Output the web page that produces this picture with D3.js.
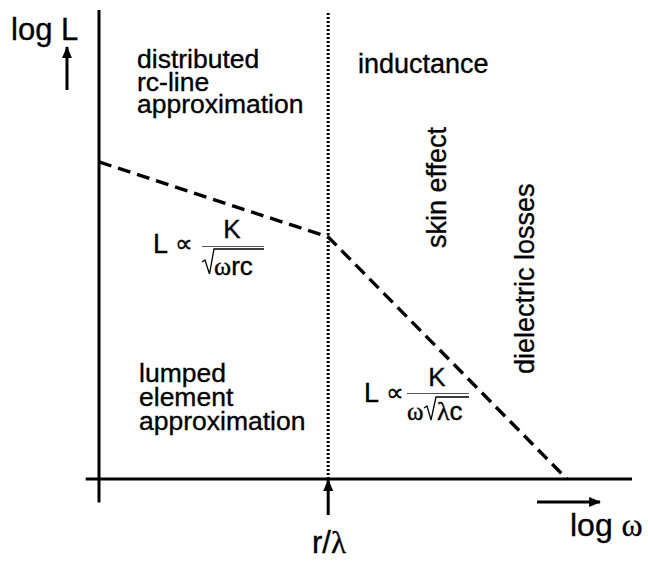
<!DOCTYPE html>
<html>
<head>
<meta charset="utf-8">
<script src="https://cdn.jsdelivr.net/npm/d3@7"></script>
<style>
  body { margin: 0; background: #fff; }
  text { font-family: "Liberation Sans", Arial, sans-serif; fill: #000; stroke: #000; stroke-width: 0.35px; }
  .sym { font-family: "Liberation Serif", "DejaVu Serif", serif; }
  .prop { font-family: "DejaVu Sans", sans-serif; stroke-width: 0.3px; }
</style>
</head>
<body>
<div class="chart"></div>
<script>
// asymptotic curve of log L vs log w (arbitrary log units)
var logW = [0, 4.3, 8.78];
var logL = [6.76, 5.16, 0];
// frequency where the two regimes meet (r/lambda)
var crossover = 4.3;
var axisExtent = { x: [-0.25, 10], y: [-0.5, 10] };

var width = 648, height = 561;

var svg = d3.select('.chart').append('svg')
    .attr('width', width)
    .attr('height', height);

var x = d3.scaleLinear().domain([0, 10]).range([99, 632]);
var y = d3.scaleLinear().domain([0, 10]).range([479, 10]);

var defs = svg.append('defs');
defs.append('marker')
    .attr('id', 'head')
    .attr('viewBox', '0 0 12 10')
    .attr('refX', 11).attr('refY', 5)
    .attr('markerWidth', 4).attr('markerHeight', 3.3)
    .attr('markerUnits', 'strokeWidth')
    .attr('orient', 'auto')
  .append('path')
    .attr('d', 'M0,0 L12,5 L0,10 z')
    .style('fill', '#000');

// axes
svg.append('line')
    .attr('x1', x(0)).attr('x2', x(0))
    .attr('y1', y(axisExtent.y[0])).attr('y2', y(axisExtent.y[1]))
    .style('stroke', '#000').style('stroke-width', 3);
svg.append('line')
    .attr('x1', x(axisExtent.x[0])).attr('x2', x(axisExtent.x[1]))
    .attr('y1', y(0)).attr('y2', y(0))
    .style('stroke', '#000').style('stroke-width', 3);

// dotted crossover line
svg.append('line')
    .attr('x1', x(crossover)).attr('x2', x(crossover))
    .attr('y1', y(0)).attr('y2', y(9.95))
    .style('stroke', '#000').style('stroke-width', 3)
    .style('stroke-dasharray', '2,2');

// dashed asymptotes
var pts = logW.map(function(d, i) { return [d, logL[i]]; });
svg.append('path')
    .datum(pts)
    .attr('d', d3.line().x(function(d) { return x(d[0]); }).y(function(d) { return y(d[1]); }))
    .style('fill', 'none')
    .style('stroke', '#000')
    .style('stroke-width', 3.4)
    .style('stroke-dasharray', '13,7');

// arrows
function arrow(x1, y1, x2, y2) {
    svg.append('line')
        .attr('x1', x1).attr('y1', y1).attr('x2', x2).attr('y2', y2)
        .style('stroke', '#000').style('stroke-width', 3)
        .attr('marker-end', 'url(#head)');
}
arrow(67, 90, 67, 47);
arrow(x(crossover), 515, x(crossover), y(0) + 1);
arrow(537, 502, 600, 502);

// axis labels
svg.append('text').attr('x', 11).attr('y', 40).style('font-size', '31px').text('log L');
var lw = svg.append('text').attr('x', 570).attr('y', 536).style('font-size', '32px');
lw.append('tspan').text('log ');
lw.append('tspan').attr('class', 'sym').text('ω');
var rl = svg.append('text').attr('x', 312).attr('y', 553).style('font-size', '31px');
rl.append('tspan').text('r/');
rl.append('tspan').attr('class', 'sym').text('λ');

// region labels
function block(lines, x0, y0, dy) {
    var t = svg.append('text').attr('x', x0).attr('y', y0).style('font-size', '26.5px');
    lines.forEach(function(s, i) {
        t.append('tspan').attr('x', x0).attr('y', y0 + i * dy).text(s);
    });
}
block(['distributed', 'rc-line', 'approximation'], 137, 68, 22.7);
block(['lumped', 'element', 'approximation'], 139, 382, 24);
svg.append('text').attr('x', 358).attr('y', 73).style('font-size', '27px').text('inductance');

svg.append('text')
    .attr('transform', 'translate(446,248) rotate(-90)')
    .style('font-size', '27px')
    .text('skin effect');
svg.append('text')
    .attr('transform', 'translate(534,374) rotate(-90)')
    .style('font-size', '27px')
    .text('dielectric losses');

// formula 1: L ∝ K / sqrt(w r c)
svg.append('text').attr('x', 153).attr('y', 253).style('font-size', '27px').text('L');
svg.append('text').attr('x', 175).attr('y', 252).attr('class', 'prop').style('font-size', '25px').text('∝');
svg.append('line').attr('x1', 202).attr('x2', 264).attr('y1', 246.5).attr('y2', 246.5)
    .style('stroke', '#555').style('stroke-width', 1.2);
svg.append('text').attr('x', 232).attr('y', 238).attr('text-anchor', 'middle').style('font-size', '26px').text('K');
svg.append('path')
    .attr('d', 'M202,262 L205,260 L209.5,274 L214,249 L264,249')
    .style('fill', 'none').style('stroke', '#000').style('stroke-width', 1.3);
var d1 = svg.append('text').attr('x', 214).attr('y', 275).style('font-size', '26px');
d1.append('tspan').attr('class', 'sym').text('ω');
d1.append('tspan').text('rc');

// formula 2: L ∝ K / (w sqrt(lambda c))
svg.append('text').attr('x', 364).attr('y', 402).style('font-size', '27px').text('L');
svg.append('text').attr('x', 386).attr('y', 401).attr('class', 'prop').style('font-size', '25px').text('∝');
svg.append('line').attr('x1', 407).attr('x2', 469).attr('y1', 393.5).attr('y2', 393.5)
    .style('stroke', '#555').style('stroke-width', 1.2);
svg.append('text').attr('x', 437).attr('y', 386).attr('text-anchor', 'middle').style('font-size', '26px').text('K');
svg.append('text').attr('x', 407).attr('y', 420).attr('class', 'sym').style('font-size', '25px').text('ω');
svg.append('path')
    .attr('d', 'M424,408 L427,406 L431,420 L436,397 L469,397')
    .style('fill', 'none').style('stroke', '#000').style('stroke-width', 1.3);
var d2 = svg.append('text').attr('x', 437).attr('y', 420).style('font-size', '26px');
d2.append('tspan').attr('class', 'sym').text('λ');
d2.append('tspan').text('c');
</script>
</body>
</html>
